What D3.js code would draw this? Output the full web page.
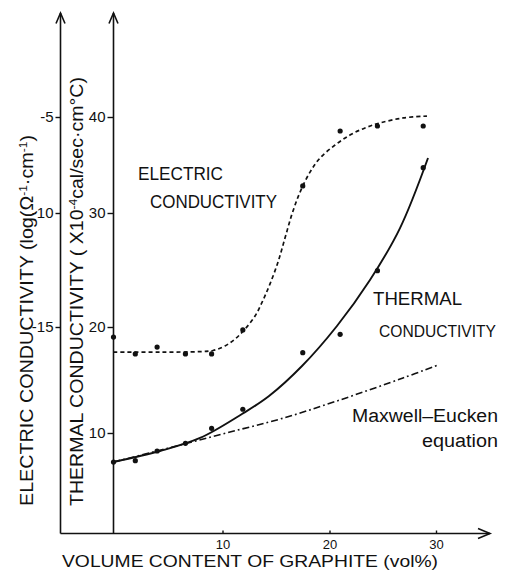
<!DOCTYPE html>
<html>
<head>
<meta charset="utf-8">
<script src="https://cdn.jsdelivr.net/npm/d3@7"></script>
<style>
  html, body { margin: 0; padding: 0; background: #fff; }
  text { font-family: "Liberation Sans", Arial, sans-serif; fill: #111; }
</style>
</head>
<body>
<svg id="chart" width="510" height="571"></svg>
<script>
// Measured specimens: graphite content (vol%)
const volume = [0, 2, 4, 6.6, 9, 11.9, 17.5, 21, 24.5, 28.8];
// Electric conductivity, log(ohm^-1 cm^-1)
const electricLog = [-15.44, -16.18, -15.88, -16.18, -16.18, -15.13, -8.59, -5.73, -5.47, -5.47];
// Thermal conductivity, x10^-4 cal/sec cm °C
const thermalK = [7.26, 7.39, 8.30, 9.03, 10.44, 12.24, 17.58, 19.31, 24.94, 34.72];

// Hand-fitted electric conductivity curve
const electricFitVol = [0, 4.27, 7.94, 9.13, 10.23, 11.17, 12.10, 13.04, 13.79, 14.44, 15.19, 15.84, 16.50, 17.25, 18.18, 19.11, 20.52, 21.92, 23.33, 24.74, 26.90, 29.15];
const electricFitLog = [-16.10, -16.10, -16.08, -16.03, -15.83, -15.53, -15.09, -14.52, -13.82, -13.11, -12.15, -11.10, -10.04, -8.91, -7.87, -7.14, -6.46, -5.94, -5.57, -5.31, -5.05, -4.95];

// Hand-fitted thermal conductivity curve
const thermalFitVol = [0, 4.27, 7.94, 11.82, 14.35, 17.43, 20.70, 23.80, 26.62, 29.25];
const thermalFitK = [7.26, 8.30, 9.53, 11.79, 13.49, 16.32, 20.09, 24.12, 28.68, 35.73];

// Maxwell-Eucken prediction
const maxwellVol = [0, 4.0, 6.65, 10.7, 15.4, 20.7, 26.9, 30.2];
const maxwellK = [7.26, 8.30, 9.01, 10.09, 11.32, 13.02, 15.19, 16.42];

// Axis ticks
const xTicks = [10, 20, 30];
const thermalTicks = [10, 20, 30, 40];
const electricTicks = [-15, -10, -5];

const svg = d3.select("#chart");

// Scales follow the drawn tick positions of the original plate
const x = d3.scaleLinear().domain([0, 10, 20, 30]).range([113.5, 222.5, 329.5, 436]);
const yT = d3.scaleLinear().domain([10, 20, 30, 40]).range([433, 327, 213, 117]);
const yE = d3.scaleLinear().domain([-15, -10, -5]).range([327, 213, 117]);

const outerX = 60.5, innerX = 113.5, baseY = 533.5, topY = 13, rightX = 490;

// Axis lines with open arrowheads
const axisG = svg.append("g").attr("stroke", "#111").attr("stroke-width", 1.6).attr("fill", "none");
axisG.append("line").attr("x1", outerX).attr("y1", baseY).attr("x2", outerX).attr("y2", topY);
axisG.append("line").attr("x1", innerX).attr("y1", baseY).attr("x2", innerX).attr("y2", topY);
axisG.append("line").attr("x1", outerX).attr("y1", baseY).attr("x2", rightX).attr("y2", baseY);
[outerX, innerX].forEach(ax => {
  axisG.append("path").attr("d", `M${ax - 4.5},${topY + 10.5}L${ax},${topY}L${ax + 4.5},${topY + 10.5}`);
});
axisG.append("path").attr("d", `M${rightX - 12},${baseY - 5}L${rightX},${baseY}L${rightX - 12},${baseY + 5}`);

// Tick marks and labels
const fmt = d => String(d);
const gE = svg.append("g").attr("transform", `translate(${outerX},0)`)
  .call(d3.axisLeft(yE).tickValues(electricTicks).tickSize(5).tickPadding(2).tickFormat(fmt));
const gT = svg.append("g").attr("transform", `translate(${innerX},0)`)
  .call(d3.axisLeft(yT).tickValues(thermalTicks).tickSize(6).tickPadding(2).tickFormat(fmt));
const gX = svg.append("g").attr("transform", `translate(0,${baseY})`)
  .call(d3.axisBottom(x).tickValues(xTicks).tickSize(-3).tickPadding(6).tickFormat(fmt));
[gE, gT, gX].forEach(g => {
  g.select(".domain").remove();
  g.selectAll(".tick line").attr("stroke", "#111").attr("stroke-width", 1.4);
  g.selectAll(".tick text").attr("font-size", 15).attr("font-family", "Liberation Sans, Arial, sans-serif").attr("fill", "#111");
});
gX.selectAll(".tick text").attr("font-size", 13);

// Curves
const curveLine = ys => d3.line().x(d => x(d[0])).y(d => ys(d[1])).curve(d3.curveCatmullRom.alpha(0.5));

svg.append("path")
  .datum(d3.zip(electricFitVol, electricFitLog))
  .attr("d", curveLine(yE))
  .attr("fill", "none").attr("stroke", "#111").attr("stroke-width", 1.7)
  .attr("stroke-dasharray", "4,3");

svg.append("path")
  .datum(d3.zip(thermalFitVol, thermalFitK))
  .attr("d", curveLine(yT))
  .attr("fill", "none").attr("stroke", "#111").attr("stroke-width", 1.9);

svg.append("path")
  .datum(d3.zip(maxwellVol, maxwellK))
  .attr("d", curveLine(yT))
  .attr("fill", "none").attr("stroke", "#111").attr("stroke-width", 1.6)
  .attr("stroke-dasharray", "7,3,1.8,3");

// Measured points
svg.append("g").selectAll("circle")
  .data(d3.zip(volume, electricLog))
  .join("circle")
  .attr("cx", d => x(d[0])).attr("cy", d => yE(d[1])).attr("r", 2.6).attr("fill", "#111");
svg.append("g").selectAll("circle")
  .data(d3.zip(volume, thermalK))
  .join("circle")
  .attr("cx", d => x(d[0])).attr("cy", d => yT(d[1])).attr("r", 2.6).attr("fill", "#111");

// Text labels
function label(txt, px, py, len, size) {
  return svg.append("text").attr("x", px).attr("y", py)
    .attr("font-size", size || 18).attr("textLength", len).attr("lengthAdjust", "spacingAndGlyphs")
    .text(txt);
}
label("ELECTRIC", 138, 180, 85);
label("CONDUCTIVITY", 150, 208, 127);
label("THERMAL", 373, 305, 89);
label("CONDUCTIVITY", 379, 337, 117, 16.5);
label("Maxwell\u2013Eucken", 352, 422, 146);
label("equation", 422, 447, 76);
label("VOLUME CONTENT OF GRAPHITE (vol%)", 62, 567, 376, 17);

// Rotated axis titles
const eTitle = svg.append("text")
  .attr("transform", "translate(33,506) rotate(-90)")
  .attr("font-size", 18).attr("textLength", 371).attr("lengthAdjust", "spacingAndGlyphs");
eTitle.append("tspan").text("ELECTRIC  CONDUCTIVITY  (log(\u03A9");
eTitle.append("tspan").attr("dy", -6).attr("font-size", 11).text("-1");
eTitle.append("tspan").attr("dy", 6).text("\u00B7cm");
eTitle.append("tspan").attr("dy", -6).attr("font-size", 11).text("-1");
eTitle.append("tspan").attr("dy", 6).text(")");

const tTitle = svg.append("text")
  .attr("transform", "translate(83,506) rotate(-90)")
  .attr("font-size", 18).attr("textLength", 429).attr("lengthAdjust", "spacingAndGlyphs");
tTitle.append("tspan").text("THERMAL  CONDUCTIVITY  ( X10");
tTitle.append("tspan").attr("dy", -6).attr("font-size", 11).text("-4");
tTitle.append("tspan").attr("dy", 6).text("cal/sec\u00B7cm\u00B0C)");
</script>
</body>
</html>
